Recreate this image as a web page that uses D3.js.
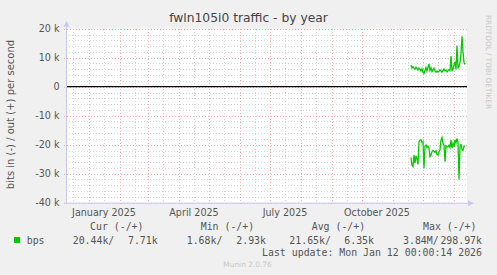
<!DOCTYPE html>
<html>
<head>
<meta charset="utf-8">
<script src="https://cdn.jsdelivr.net/npm/d3@7"></script>
<style>
  body { margin: 0; background: #f0f0f0; }
  svg { display: block; }
</style>
</head>
<body>
<div id="chart"></div>
<script>
// Step 1: data (daily points, k bits/s)
var firstDay = Date.UTC(2025, 10, 19);
var outValues = [7.5, 6.4, 6.9, 6.3, 6.0, 6.7, 6.2, 5.8, 6.4, 6.0, 5.4, 6.2, 5.0, 4.6, 5.6,
  6.6, 5.4, 6.8, 7.8, 5.6, 6.5, 5.2, 5.8, 6.4, 5.5, 5.0, 5.4, 5.0, 5.3, 5.8,
  5.4, 5.0, 5.6, 6.1, 5.5, 5.7, 5.1, 5.5, 5.9, 5.6, 10.6, 5.3, 6.2, 7.4, 8.6,
  6.0, 14.2, 6.3, 7.0, 8.4, 11.5, 17.4, 12.0, 8.3, 7.7];
var inValues = [-24.4, -27.2, -27.6, -23.5, -26.4, -23.8, -24.8, -26.8, -19.0, -18.4, -18.3, -19.3, -19.0, -28.1, -20.7,
  -20.1, -21.0, -20.6, -21.2, -24.1, -23.6, -22.4, -22.0, -22.3, -22.6, -22.1, -23.3, -23.6, -22.6, -21.8,
  -18.4, -17.5, -19.6, -20.1, -25.9, -20.4, -20.8, -20.6, -20.2, -21.0, -18.4, -21.2, -19.6, -20.7, -18.3,
  -19.4, -17.8, -19.2, -31.9, -20.8, -19.8, -21.8, -22.0, -20.6, -20.4];
var yTicks = [20000, 10000, 0, -10000, -20000, -30000, -40000];
var yTickLabels = ["20 k", "10 k", "0", "-10 k", "-20 k", "-30 k", "-40 k"];
var monthLabels = ["January 2025", "April 2025", "July 2025", "October 2025"];
var legendHeaders = ["Cur (-/+)", "Min (-/+)", "Avg (-/+)", "Max (-/+)"];
var legendIn = ["20.44k/", "1.68k/", "21.65k/", "3.84M/"];
var legendOut = ["7.71k", "2.93k", "6.35k", "298.97k"];

// Step 2: set up the chart
var svgWidth = 497;
var svgHeight = 275;
var plot = { left: 66, right: 467, top: 28.7, bottom: 202.7 };

var svg = d3.select("#chart").append("svg")
  .attr("width", svgWidth)
  .attr("height", svgHeight);

svg.append("rect").attr("width", svgWidth).attr("height", svgHeight).attr("fill", "#f0f0f0");
svg.append("rect")
  .attr("x", plot.left).attr("y", plot.top)
  .attr("width", plot.right - plot.left).attr("height", plot.bottom - plot.top)
  .attr("fill", "#ffffff");

var xScale = d3.scaleUtc()
  .domain([new Date(Date.UTC(2024, 11, 9)), new Date(Date.UTC(2026, 0, 14))])
  .range([plot.left, plot.right]);
var yScale = d3.scaleLinear()
  .domain([-40000, 20000])
  .range([plot.bottom, plot.top]);

// grid
var minorColor = "#d6d6d6";
var majorColor = "#f2b0b0";
var gridGroup = svg.append("g").attr("shape-rendering", "crispEdges");
var minorY = d3.range(-40000, 20001, 2000).filter(d => d % 10000 !== 0);
gridGroup.selectAll(null).data(minorY).enter().append("line")
  .attr("x1", plot.left).attr("x2", plot.right)
  .attr("y1", d => Math.round(yScale(d)) + 0.5).attr("y2", d => Math.round(yScale(d)) + 0.5)
  .attr("stroke", minorColor).attr("stroke-dasharray", "1,2");

var minorX = d3.utcMonths(xScale.domain()[0], xScale.domain()[1]).map(d => d3.utcDay.offset(d, 15));
minorX = minorX.filter(d => d < xScale.domain()[1]);
minorX.unshift(new Date(Date.UTC(2024, 11, 16)));
gridGroup.selectAll(null).data(minorX).enter().append("line")
  .attr("x1", d => Math.round(xScale(d)) + 0.5).attr("x2", d => Math.round(xScale(d)) + 0.5)
  .attr("y1", plot.top).attr("y2", plot.bottom + 2)
  .attr("stroke", minorColor).attr("stroke-dasharray", "1,2");

gridGroup.selectAll(null).data(yTicks).enter().append("line")
  .attr("x1", plot.left - 2).attr("x2", plot.right)
  .attr("y1", d => Math.round(yScale(d)) + 0.5).attr("y2", d => Math.round(yScale(d)) + 0.5)
  .attr("stroke", majorColor).attr("stroke-dasharray", "1,2");

var majorX = d3.utcMonths(xScale.domain()[0], xScale.domain()[1]);
gridGroup.selectAll(null).data(majorX).enter().append("line")
  .attr("x1", d => Math.round(xScale(d)) + 0.5).attr("x2", d => Math.round(xScale(d)) + 0.5)
  .attr("y1", plot.top).attr("y2", plot.bottom + 2)
  .attr("stroke", majorColor).attr("stroke-dasharray", "1,2");

// y tick labels
svg.selectAll(null).data(yTicks).enter().append("text")
  .attr("x", 59.5)
  .attr("y", d => yScale(d) + 3.4)
  .attr("text-anchor", "end")
  .style("font-family", "DejaVu Sans")
  .style("font-size", "9.6px")
  .attr("fill", "#555")
  .text((d, i) => yTickLabels[i]);

// x labels, centred half a month after the quarter start
var quarterStarts = [0, 3, 6, 9].map(m => new Date(Date.UTC(2025, m, 1)));
svg.selectAll(null).data(quarterStarts).enter().append("text")
  .attr("x", d => xScale(d3.utcDay.offset(d, 15)))
  .attr("y", 216)
  .attr("text-anchor", "middle")
  .style("font-family", "DejaVu Sans")
  .style("font-size", "9.6px")
  .attr("fill", "#555")
  .text((d, i) => monthLabels[i]);

// Step 3: series lines
var line = d3.line()
  .x((d, i) => xScale(new Date(firstDay + i * 86400000)))
  .y(d => yScale(d * 1000));

svg.append("path").datum(outValues)
  .attr("d", line).attr("fill", "none")
  .attr("stroke", "#00cc00").attr("stroke-width", 1.3);
svg.append("path").datum(inValues)
  .attr("d", line).attr("fill", "none")
  .attr("stroke", "#00cc00").attr("stroke-width", 1.3);

// zero line
svg.append("line")
  .attr("x1", plot.left).attr("x2", plot.right)
  .attr("y1", yScale(0)).attr("y2", yScale(0))
  .attr("stroke", "#000").attr("stroke-width", 1.2);

// axes with arrows
var axisColor = "#c8c8f4";
svg.append("line")
  .attr("x1", plot.left + 0.5).attr("x2", plot.left + 0.5)
  .attr("y1", plot.bottom + 1).attr("y2", plot.top - 4)
  .attr("stroke", axisColor);
svg.append("path")
  .attr("d", `M${plot.left - 2.5},${plot.top - 2} L${plot.left + 0.5},${plot.top - 8} L${plot.left + 3.5},${plot.top - 2} Z`)
  .attr("fill", axisColor);
svg.append("line")
  .attr("x1", plot.left - 1).attr("x2", plot.right + 3)
  .attr("y1", plot.bottom + 0.5).attr("y2", plot.bottom + 0.5)
  .attr("stroke", axisColor);
svg.append("path")
  .attr("d", `M${plot.right + 1},${plot.bottom - 2.5} L${plot.right + 7},${plot.bottom + 0.5} L${plot.right + 1},${plot.bottom + 3.5} Z`)
  .attr("fill", axisColor);

// title and side texts
svg.append("text")
  .attr("x", 248.5).attr("y", 22)
  .attr("text-anchor", "middle")
  .style("font-family", "DejaVu Sans").style("font-size", "12.3px")
  .attr("fill", "#444")
  .text("fwln105i0 traffic - by year");

svg.append("text")
  .attr("transform", "translate(14, 114.5) rotate(-90)")
  .attr("text-anchor", "middle")
  .style("font-family", "DejaVu Sans").style("font-size", "10px")
  .attr("fill", "#555")
  .text("bits in (-) / out (+) per second");

svg.append("text")
  .attr("transform", "translate(486, 15) rotate(90)")
  .style("font-family", "DejaVu Sans").style("font-size", "7.3px")
  .attr("fill", "#c8c8c8")
  .text("RRDTOOL / TOBI OETIKER");

// Step 4: legend
var mono = "DejaVu Sans Mono";
var headerStarts = [90, 200.7, 311.7, 423];
svg.selectAll(null).data(legendHeaders).enter().append("text")
  .attr("x", (d, i) => headerStarts[i]).attr("y", 230)
  .style("font-family", mono).style("font-size", "9.9px")
  .attr("fill", "#555")
  .text(d => d);

svg.append("rect").attr("x", 14).attr("y", 237).attr("width", 6).attr("height", 6).attr("fill", "#00cc00");
svg.append("text")
  .attr("x", 26.7).attr("y", 243.5)
  .style("font-family", mono).style("font-size", "9.9px")
  .attr("fill", "#555").text("bps");

var inStarts = [72.7, 186.7, 289.3, 403];
var outEnds = [157.7, 266, 374, 482];
svg.selectAll(null).data(legendIn).enter().append("text")
  .attr("x", (d, i) => inStarts[i]).attr("y", 243.5)
  .style("font-family", mono).style("font-size", "9.9px")
  .attr("fill", "#555").text(d => d);
svg.selectAll(null).data(legendOut).enter().append("text")
  .attr("x", (d, i) => outEnds[i]).attr("y", 243.5)
  .attr("text-anchor", "end")
  .style("font-family", mono).style("font-size", "9.9px")
  .attr("fill", "#555").text(d => d);

svg.append("text")
  .attr("x", 482).attr("y", 255.5)
  .attr("text-anchor", "end")
  .style("font-family", mono).style("font-size", "9.9px")
  .attr("fill", "#555")
  .text("Last update: Mon Jan 12 00:00:14 2026");

svg.append("text")
  .attr("x", 247.5).attr("y", 267)
  .attr("text-anchor", "middle")
  .style("font-family", "DejaVu Sans").style("font-size", "7.4px")
  .attr("fill", "#c8c8c8")
  .text("Munin 2.0.76");
</script>
</body>
</html>
